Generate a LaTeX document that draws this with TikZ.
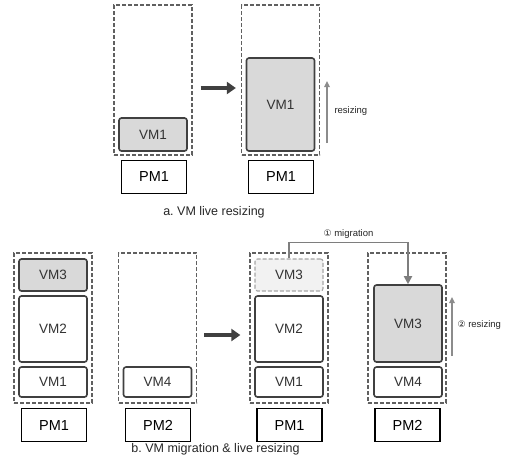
\documentclass[tikz,border=0pt]{standalone}
\usepackage{fontspec}
\setmainfont{Liberation Sans}
\newfontfamily\circfont{DejaVu Sans}
\usepackage{xcolor}
\definecolor{vmgray}{HTML}{D9D9D9}
\definecolor{ghostgray}{HTML}{F2F2F2}
\definecolor{edgegray}{HTML}{404040}
\definecolor{dashgray}{HTML}{606060}
\definecolor{arrowgray}{HTML}{8C8C8C}
\usepackage{tikz}
\usetikzlibrary{arrows.meta}
\frenchspacing

\begin{document}
\begin{tikzpicture}[x=1pt, y=-1pt,
  host/.style={draw=dashgray, dash pattern=on 4pt off 2pt, line width=1.3pt, minimum width=78pt, minimum height=150pt, inner sep=0pt},
  vmbox/.style={draw=edgegray, line width=1.6pt, rounded corners=2.5pt, minimum width=68pt, inner sep=0pt, text=black!80, font=\fontsize{13.5}{15}\selectfont},
  ghostbox/.style={vmbox, draw=black!35, fill=ghostgray, dash pattern=on 4pt off 2pt, line width=1.1pt},
  pmbox/.style={draw=black, line width=1.3pt, minimum width=65pt, minimum height=33pt, inner sep=0pt, font=\fontsize{14.5}{16}\selectfont},
  movearrow/.style={draw=edgegray, line width=4pt, -{Triangle[length=9pt, width=12pt]}},
  growarrow/.style={draw=arrowgray, line width=1.8pt, -{Triangle[length=6pt, width=5.5pt]}},
  smalltext/.style={font=\fontsize{9.5}{11}\selectfont, text=black!85},
  captiontext/.style={font=\fontsize{12.5}{14}\selectfont, text=black!85}]
  \useasboundingbox (0,0) rectangle (510,467);

  % hosts
  \foreach \n/\x/\y in {cA1/153/80, cA2/280.5/80, cB1/53/328, cB2/157.5/328, cC1/289/328, cC2/407/328}
    \node[host] (\n) at (\x,\y) {};

  % physical machines
  \foreach \n/\x/\y/\t in {pA1/154/177/PM1, pA2/281/177/PM1, pB1/54/425/PM1, pB2/158/425/PM2, pC1/289.5/425/PM1, pC2/407.5/425/PM2}
    \node[pmbox] (\n) at (\x,\y) {\t};

  % virtual machines
  \foreach \n/\x/\y/\h/\t/\f in {vA1/153/134.5/33/VM1/vmgray, vA2/280.5/104.5/93/VM1/vmgray,
      vB13/53/275/32/VM3/vmgray, vB12/53/329/66/VM2/white, vB11/53/382/30/VM1/white,
      vB24/157.5/382/30/VM4/white,
      vC12/289/329/66/VM2/white, vC11/289/382/30/VM1/white,
      vC23/408/323.5/77/VM3/vmgray, vC24/408/382/30/VM4/white}
    \node[vmbox, fill=\f, minimum height=\h pt] (\n) at (\x,\y) {\t};
  \node[ghostbox, minimum height=32pt] (vC13) at (289,275) {VM3};

  % arrows
  \draw[movearrow, shorten <=8pt, shorten >=5pt] ([yshift=-8pt]cA1.east) -- ([yshift=-8pt]cA2.west);
  \draw[movearrow, shorten <=7pt, shorten >=9pt] ([yshift=-7pt]cB2.east) -- ([yshift=-7pt]cC1.west);

  \coordinate (rA0) at (327,143);
  \coordinate (rA1) at (327,81);
  \draw[growarrow] (rA0) -- (rA1);
  \node[smalltext, anchor=west] (rAlbl) at (331,111) {resizing};

  \coordinate (rC0) at (452,356);
  \coordinate (rC1) at (452,297);
  \draw[growarrow] (rC0) -- (rC1);
  \node[smalltext, anchor=west] (rClbl) at (454,325) {{\circfont\fontsize{9}{11}\selectfont②} resizing};

  \draw[draw=arrowgray!90!black, line width=1.8pt, -{Triangle[length=8pt, width=8pt]}]
    (vC13.north) -- ++(0,-16) coordinate (mig) -| (vC23.north);
  \node[smalltext] (migLbl) at (348.5,234) {{\circfont\fontsize{9}{11}\selectfont①} migration};

  % captions
  \node[captiontext] (capA) at (214,212) {a. VM live resizing};
  \node[captiontext] (capB) at (215.5,449) {b. VM migration \& live resizing};
\end{tikzpicture}
\end{document}
